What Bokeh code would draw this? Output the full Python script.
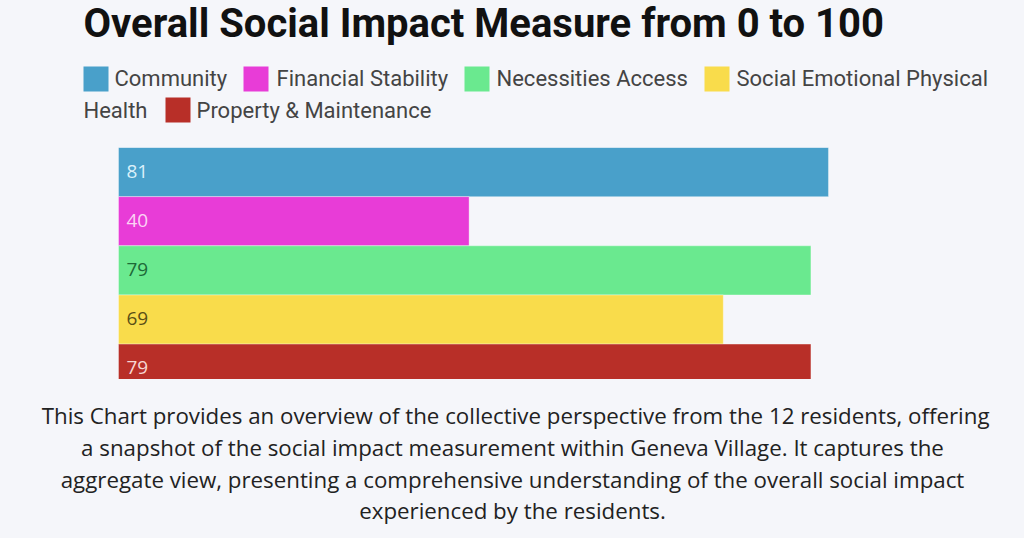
from bokeh.plotting import figure
from bokeh.layouts import column
from bokeh.models import Range1d, ColumnDataSource
from bokeh.core.properties import value
from bokeh.embed import file_html
from bokeh.resources import INLINE

# ---- data ----
categories = ["Community", "Financial Stability", "Necessities Access",
              "Social Emotional Physical Health", "Property & Maintenance"]
scores = [81, 40, 79, 69, 79]
bar_colors = ["#49a0ca", "#e83cd7", "#6ae98f", "#f9dc4b", "#b82f28"]
label_colors = ["#daf0fa", "#fbd3f4", "#1d6a38", "#5a4f16", "#f7d6d3"]
title_text = "Overall Social Impact Measure from 0 to 100"
caption_lines = [
    "This Chart  provides an overview of the collective perspective from the 12 residents, offering",
    "a snapshot of the social impact measurement within Geneva Village. It captures the",
    "aggregate view, presenting a comprehensive understanding of the overall social impact",
    "experienced by the residents.",
]

BG = "#f5f6fa"
W = 1024
H_HEAD, H_BARS, H_CAP = 147, 232, 159


def blank(height, x_range, y_range):
    f = figure(width=W, height=height, output_backend="svg", toolbar_location=None,
               x_range=x_range, y_range=y_range,
               min_border=0, background_fill_color=BG, border_fill_color=BG)
    f.axis.visible = False
    f.grid.visible = False
    f.outline_line_color = None
    return f


# ---- header: title + wrapped legend (page pixel coordinates) ----
head = blank(H_HEAD, Range1d(0, W), Range1d(H_HEAD, 0))
head.text(x=[83], y=[23], text=[title_text], text_font=value("Roboto"),
          text_font_style="bold", text_font_size="40px", text_color="#111111",
          text_baseline="middle")

# legend layout (positions of swatches / labels on the page)
sw_x = [83, 243, 464, 704, 165]
sw_y = [78.5, 78.5, 78.5, 78.5, 109.5]
lab_x = [114, 276, 496, 736, 196]
legend_texts = ["Community", "Financial Stability", "Necessities Access",
                "Social Emotional Physical", "Property & Maintenance"]
head.rect(x=[sx + 12.5 for sx in sw_x], y=sw_y, width=25, height=25,
          fill_color=bar_colors, line_color=None)
head.text(x=lab_x, y=[sy - 1 for sy in sw_y[:4]] + [sw_y[4]], text=legend_texts,
          text_font=value("Roboto"), text_font_size="22px", text_color="#444444",
          text_baseline="middle")
head.text(x=[83], y=[109.5], text=["Health"], text_font=value("Roboto"),
          text_font_size="22px", text_color="#444444", text_baseline="middle")

# ---- bars: value axis 0..100 spans page x 118..994.5 ----
px_per_unit = 8.765
left_pad = 118           # page px left of value 0
n = len(categories)
ypos = list(range(n))
src = ColumnDataSource(dict(y=ypos, score=scores, color=bar_colors,
                            lcolor=label_colors, lab=[str(s) for s in scores]))
bars = blank(H_BARS,
             Range1d(-left_pad / px_per_unit, (W - left_pad) / px_per_unit),
             Range1d(4.22, -0.5))
bars.hbar(y="y", left=0, right="score", height=1.0, fill_color="color",
          line_color="white", line_alpha=0.35, line_width=1, source=src)
bars.text(x=0, y="y", text="lab", x_offset=8, y_offset=-1, text_color="lcolor",
          text_font=value("Open Sans"), text_font_size="19px",
          text_baseline="middle", source=src)

# ---- caption ----
top = H_HEAD + H_BARS
cap = blank(H_CAP, Range1d(0, W), Range1d(top + H_CAP, top))
cap.text(x=[518] + [512] * (len(caption_lines) - 1),
         y=[415 + 31.8 * i for i in range(len(caption_lines))],
         text=caption_lines, text_font=value("Open Sans"), text_font_size="22.3px",
         text_color="#222222", text_align="center", text_baseline="middle")

layout = column(head, bars, cap, spacing=0, background=BG)
html = file_html(layout, INLINE)
html = html.replace("<head>", "<head><style>body{background:%s;}</style>" % BG, 1)
open("out.html", "w").write(html)
